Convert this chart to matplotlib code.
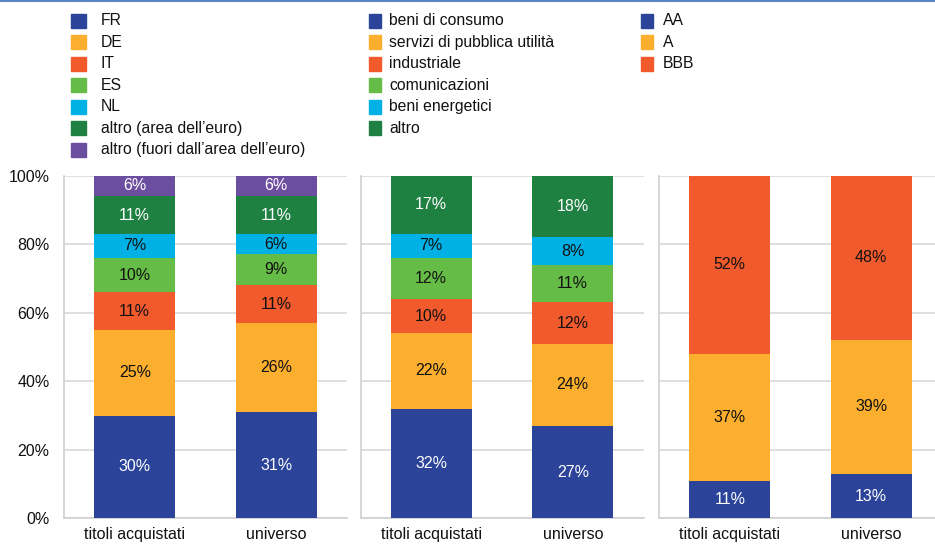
import matplotlib
matplotlib.use("Agg")
import matplotlib.pyplot as plt
from matplotlib.patches import Rectangle
from matplotlib.lines import Line2D
import numpy as np

plt.rcParams['font.family'] = ['Liberation Sans', 'DejaVu Sans']

BARS = ["titoli acquistati", "universo"]

# paesi
country_labels = ["FR", "DE", "IT", "ES", "NL", "altro (area dell\u2019euro)",
                  "altro (fuori dall\u2019area dell\u2019euro)"]
country_bought = [30, 25, 11, 10, 7, 11, 6]
country_universe = [31, 26, 11, 9, 6, 11, 6]

# settori
sector_labels = ["beni di consumo", "servizi di pubblica utilit\u00e0", "industriale",
                 "comunicazioni", "beni energetici", "altro"]
sector_bought = [32, 22, 10, 12, 7, 17]
sector_universe = [27, 24, 12, 11, 8, 18]

# rating
rating_labels = ["AA", "A", "BBB"]
rating_bought = [11, 37, 52]
rating_universe = [13, 39, 48]

COLORS = ["#2B4399", "#FCAF2F", "#F15A2C", "#65BC46", "#00B1E6", "#1E8041", "#6C4EA0"]
WHITE_TEXT = {0, 5, 6}
FS = 11.5

W, H = 935, 547
fig = plt.figure(figsize=(W / 100, H / 100), dpi=100)

# thin rule on top
fig.add_artist(Line2D([0, 1], [1 - 1 / H, 1 - 1 / H], color="#5A86C0", lw=1.5,
                      transform=fig.transFigure))


def draw_panel(left, bought, universe, show_y):
    ax = fig.add_axes([left / W, (H - 518.3) / H, 283 / W, 342.6 / H])
    x = np.arange(len(BARS))
    for vals, xi in ((bought, x[0]), (universe, x[1])):
        bottom = 0
        for i, v in enumerate(vals):
            ax.bar(xi, v, 0.57, bottom=bottom, color=COLORS[i], zorder=3)
            ax.text(xi, bottom + v / 2, f"{v}%", ha="center", va="center",
                    fontsize=FS, zorder=4,
                    color="white" if i in WHITE_TEXT else "#111111")
            bottom += v
    ax.set_xlim(-0.5, 1.5)
    ax.set_ylim(0, 100)
    ax.set_xticks(x)
    ax.set_xticklabels(BARS, fontsize=FS)
    ax.set_yticks(np.arange(0, 101, 20))
    if show_y:
        ax.set_yticklabels([f"{v}%" for v in range(0, 101, 20)], fontsize=FS)
    else:
        ax.set_yticklabels([])
    ax.tick_params(length=0, pad=6, colors="#111111")
    ax.tick_params(axis="y", pad=10.5)
    ax.grid(axis="y", color="#D9D9D9", lw=1.2, zorder=0)
    for s in ("top", "right"):
        ax.spines[s].set_visible(False)
    for s in ("left", "bottom"):
        ax.spines[s].set_color("#D0D0D0")
        ax.spines[s].set_linewidth(1.2)
    return ax


draw_panel(64, country_bought, country_universe, True)
draw_panel(360.5, sector_bought, sector_universe, False)
draw_panel(659, rating_bought, rating_universe, False)


def draw_legend(labels, sq_x, txt_x, sq_w):
    for i, lab in enumerate(labels):
        yc = 20.7 + i * 21.5
        fig.add_artist(Rectangle(((sq_x) / W, 1 - (yc + 7) / H), sq_w / W, 14 / H,
                                 color=COLORS[i], transform=fig.transFigure))
        fig.text(txt_x / W, 1 - yc / H, lab, fontsize=11.3, va="center", ha="left",
                 color="#111111")


draw_legend(country_labels, 71, 101, 15)
draw_legend(sector_labels, 369, 389, 12)
draw_legend(rating_labels, 641, 663, 12)

fig.savefig("out.png", dpi=100)
